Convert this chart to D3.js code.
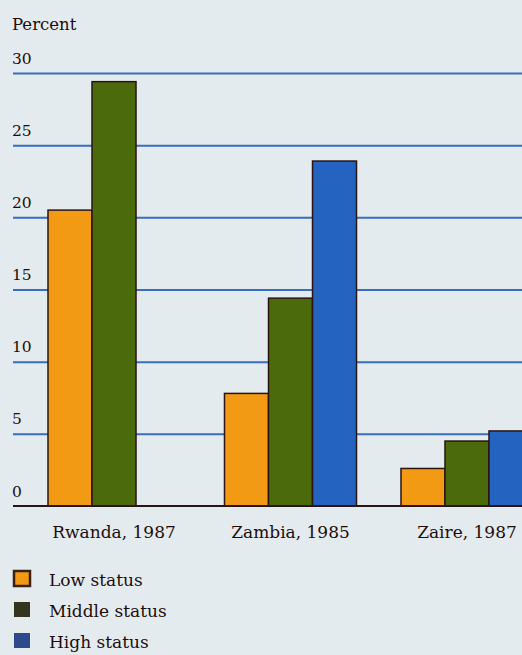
<!DOCTYPE html>
<html>
<head>
<meta charset="utf-8">
<script src="https://cdn.jsdelivr.net/npm/d3@7"></script>
<style>
  html, body { margin: 0; padding: 0; background: #e3ebee; }
  svg { display: block; }
  text { font-family: "DejaVu Serif", serif; fill: #1f0d0d; }
</style>
</head>
<body>
<svg id="chart" width="522" height="655"></svg>
<script>
const categories = ["Rwanda, 1987", "Zambia, 1985", "Zaire, 1987"];
const seriesNames = ["Low status", "Middle status", "High status"];
const lowStatus = [20.5, 7.8, 2.6];
const middleStatus = [29.4, 14.4, 4.5];
const highStatus = [null, 23.9, 5.2];
const yTicks = [0, 5, 10, 15, 20, 25, 30];

const barColors = ["#f29a14", "#4a6a0c", "#2563c0"];
const legendColors = ["#f29a14", "#35351f", "#2d4b8c"];

const seriesValues = [lowStatus, middleStatus, highStatus];
const data = categories.map((c, i) => ({
  category: c,
  values: seriesNames.map((s, j) => ({ series: s, idx: j, value: seriesValues[j][i] }))
}));

const svg = d3.select("#chart");

const y = d3.scaleLinear().domain([0, 30]).range([506, 73]);
const x0 = d3.scaleBand().domain(categories).range([48, 533]).paddingInner(0.252).paddingOuter(0);
const x1 = d3.scaleBand().domain(seriesNames).range([0, x0.bandwidth()]).padding(0);

// gridlines + tick labels
const axis = d3.axisRight(y).tickValues(yTicks).tickSize(509).tickFormat(d3.format("d"));
const gAxis = svg.append("g").attr("transform", "translate(13,0)").call(axis);
gAxis.select(".domain").remove();
gAxis.selectAll(".tick line")
  .attr("stroke", d => d === 0 ? "none" : "#3a6cc2")
  .attr("stroke-width", 2);
gAxis.selectAll(".tick text")
  .attr("x", -1)
  .attr("dy", "-10")
  .attr("text-anchor", "start")
  .attr("font-size", 15.5)
  .attr("fill", "#1f0d1f")
  .style("font-family", "'DejaVu Serif', serif");

// Percent label
svg.append("text").attr("x", 12).attr("y", 30).attr("font-size", 16.5).text("Percent");

// bars
const groups = svg.append("g").selectAll("g").data(data).join("g")
  .attr("transform", d => `translate(${x0(d.category)},0)`);
groups.selectAll("rect").data(d => d.values.filter(v => v.value != null)).join("rect")
  .attr("x", d => x1(d.series))
  .attr("y", d => y(d.value))
  .attr("width", x1.bandwidth())
  .attr("height", d => y(0) - y(d.value))
  .attr("fill", d => barColors[d.idx])
  .attr("stroke", "#2a1414")
  .attr("stroke-width", 1.5);

// baseline
svg.append("line")
  .attr("x1", 13).attr("x2", 522)
  .attr("y1", y(0)).attr("y2", y(0))
  .attr("stroke", "#2a1414").attr("stroke-width", 2);

// category labels
svg.append("g").selectAll("text").data(categories).join("text")
  .attr("x", d => x0(d) + x0.bandwidth() / 2)
  .attr("y", 538)
  .attr("text-anchor", "middle")
  .attr("font-size", 17)
  .text(d => d);

// legend
const legend = svg.append("g").selectAll("g").data(seriesNames).join("g")
  .attr("transform", (d, i) => `translate(14,${571 + i * 31})`);
legend.append("rect")
  .attr("width", 16).attr("height", 15)
  .attr("fill", (d, i) => legendColors[i])
  .attr("stroke", (d, i) => i === 0 ? "#3a2010" : "none")
  .attr("stroke-width", 2.5);
legend.append("text")
  .attr("x", 35).attr("y", 15)
  .attr("font-size", 17)
  .text(d => d);
</script>
</body>
</html>
